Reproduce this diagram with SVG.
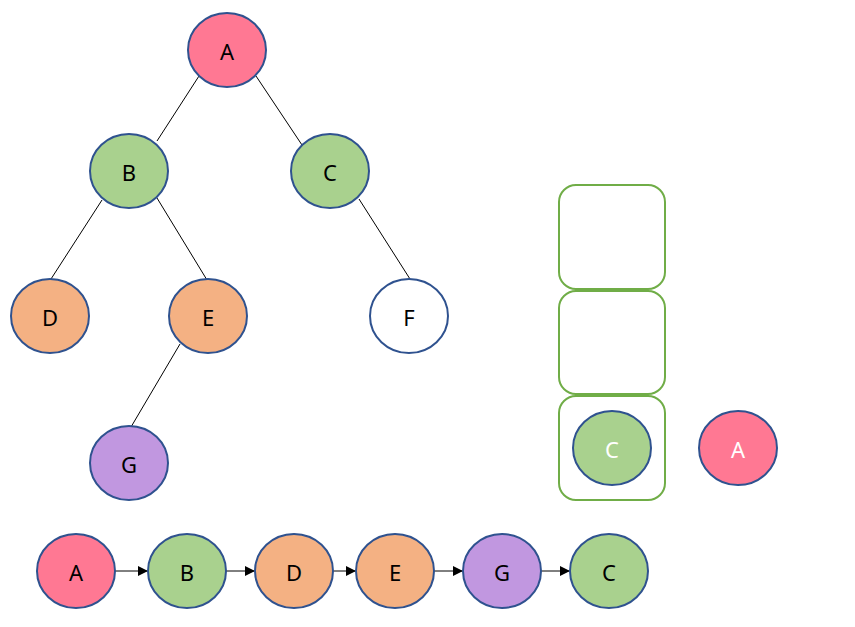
<svg xmlns="http://www.w3.org/2000/svg" width="855" height="627" viewBox="0 0 855 627">
<style>
.n{stroke:#2f528f;stroke-width:2}
.t{font-family:"Noto Sans","Liberation Sans",sans-serif;font-size:22px;text-anchor:middle;dominant-baseline:central;fill:#000}
.w{fill:#fff}
.pink{fill:#ff7893}.green{fill:#a9d18e}.orange{fill:#f4b183}.purple{fill:#c197e0}.white{fill:#fff}
.e{stroke:#000;stroke-width:1;fill:none}
.a{stroke:#000;stroke-width:1;fill:none;marker-end:url(#ah)}
.box{fill:none;stroke:#70ad47;stroke-width:2}
</style>
<defs>
<marker id="ah" viewBox="0 0 10 10" refX="10" refY="5" markerWidth="10" markerHeight="10" markerUnits="userSpaceOnUse" orient="auto">
<path d="M0,0 L10,5 L0,10 z" fill="#000"/>
</marker>
</defs>
<rect width="855" height="627" fill="#fff"/>
<g id="connectors">
<line class="e" x1="199" y1="76" x2="157" y2="141"/>
<line class="e" x1="256" y1="76" x2="302" y2="145"/>
<line class="e" x1="102" y1="200" x2="51" y2="279"/>
<line class="e" x1="157" y1="198" x2="207" y2="280"/>
<line class="e" x1="359" y1="199" x2="410" y2="279"/>
<line class="e" x1="180" y1="344" x2="131" y2="427"/>
<line class="a" x1="115" y1="571" x2="148" y2="571"/>
<line class="a" x1="226" y1="571" x2="255" y2="571"/>
<line class="a" x1="333" y1="571" x2="356" y2="571"/>
<line class="a" x1="434" y1="571" x2="463" y2="571"/>
<line class="a" x1="541" y1="571" x2="570" y2="571"/>
</g>
<g id="stack">
<rect class="box" x="559" y="185" width="106" height="104" rx="17"/>
<rect class="box" x="559" y="291" width="106" height="103" rx="17"/>
<rect class="box" x="559" y="396" width="106" height="104" rx="17"/>
</g>
<g id="tA"><ellipse class="n pink" cx="227" cy="50" rx="39" ry="37"/><text class="t" x="227" y="51">A</text></g>
<g id="tB"><ellipse class="n green" cx="129" cy="171" rx="39" ry="37"/><text class="t" x="129" y="172">B</text></g>
<g id="tC"><ellipse class="n green" cx="330" cy="171" rx="39" ry="37"/><text class="t" x="330" y="172">C</text></g>
<g id="tD"><ellipse class="n orange" cx="50" cy="316" rx="39" ry="37"/><text class="t" x="50" y="317">D</text></g>
<g id="tE"><ellipse class="n orange" cx="208" cy="316" rx="39" ry="37"/><text class="t" x="208" y="317">E</text></g>
<g id="tF"><ellipse class="n white" cx="409" cy="316" rx="39" ry="37"/><text class="t" x="409" y="317">F</text></g>
<g id="tG"><ellipse class="n purple" cx="129" cy="463" rx="39" ry="37"/><text class="t" x="129" y="464">G</text></g>
<g id="sC"><ellipse class="n green" cx="612" cy="448" rx="39" ry="37"/><text class="t w" x="612" y="449">C</text></g>
<g id="sA"><ellipse class="n pink" cx="738" cy="448" rx="39" ry="37"/><text class="t w" x="738" y="449">A</text></g>
<g id="qA"><ellipse class="n pink" cx="76" cy="571" rx="39" ry="37"/><text class="t" x="76" y="572">A</text></g>
<g id="qB"><ellipse class="n green" cx="187" cy="571" rx="39" ry="37"/><text class="t" x="187" y="572">B</text></g>
<g id="qD"><ellipse class="n orange" cx="294" cy="571" rx="39" ry="37"/><text class="t" x="294" y="572">D</text></g>
<g id="qE"><ellipse class="n orange" cx="395" cy="571" rx="39" ry="37"/><text class="t" x="395" y="572">E</text></g>
<g id="qG"><ellipse class="n purple" cx="502" cy="571" rx="39" ry="37"/><text class="t" x="502" y="572">G</text></g>
<g id="qC"><ellipse class="n green" cx="609" cy="571" rx="39" ry="37"/><text class="t" x="609" y="572">C</text></g>
</svg>
